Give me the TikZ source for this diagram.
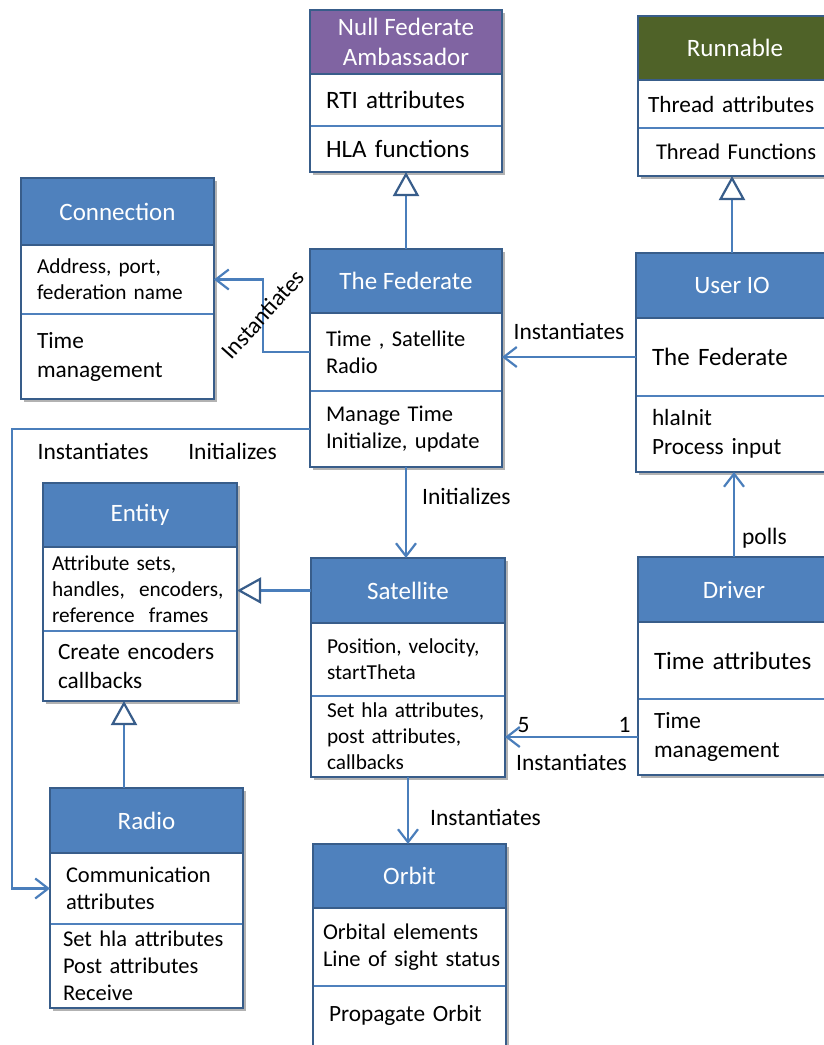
\documentclass[tikz,border=0pt]{standalone}
\usepackage{fontspec}
\setmainfont{Carlito}
\usetikzlibrary{arrows.meta,shadows}
\definecolor{umlblue}{HTML}{4F81BD}
\definecolor{umlborder}{HTML}{385D8A}
\definecolor{umlpurple}{HTML}{8064A2}
\definecolor{umlolive}{HTML}{4F6228}
\definecolor{linkblue}{HTML}{4A7EBB}
\newcommand{\hdfont}{\fontsize{25}{30}\selectfont}
\newcommand{\bodyXL}{\fontsize{25}{30}\selectfont}
\newcommand{\bodyL}{\fontsize{23.3}{29}\selectfont}
\newcommand{\bodyM}{\fontsize{22.5}{27}\selectfont}
\newcommand{\bodyS}{\fontsize{21.3}{26}\selectfont}
\newcommand{\lblfont}{\fontsize{23.5}{28}\selectfont}
\tikzset{
  boxshadow/.style={drop shadow={shadow xshift=3pt, shadow yshift=-3pt, fill=black, opacity=.3}},
  classhead/.style={draw=umlborder, line width=2pt, fill=umlblue, text=white, anchor=north west,
    outer sep=0pt, inner sep=0pt, align=center, font=\hdfont, boxshadow},
  classpart/.style={draw=umlblue, line width=1.5pt, fill=white, anchor=north west, outer sep=0pt,
    inner xsep=16pt, inner ysep=0pt, align=left, font=\bodyM, boxshadow},
  classframe/.style={draw=umlborder, line width=2.5pt},
  gen/.style={draw=linkblue, line width=2.2pt, -{Triangle[open, length=24pt, width=26pt, color=umlborder]}},
  assoc/.style={draw=linkblue, line width=2.2pt, -{Straight Barb[length=13pt, width=20pt]}},
  lbl/.style={font=\lblfont, text=black, inner sep=3pt}
}
\begin{document}
\begin{tikzpicture}[x=1pt,y=-1pt]
\useasboundingbox (0,0) rectangle (824,1045);
\fill[white] (0,0) rectangle (824,1045);
\clip (0,0) rectangle (824,1045);

\node[classhead, fill=umlpurple, minimum width=192pt, minimum height=64pt] (nullhead) at (310,10) {Null Federate\\Ambassador};
\node[classpart, font=\bodyXL, text width=160pt, minimum height=52pt] (nullp1) at (nullhead.south west) {RTI attributes};
\node[classpart, font=\bodyXL, text width=160pt, minimum height=46pt] (nullp2) at (nullp1.south west) {HLA functions};
\draw[classframe] (nullhead.north west) rectangle (nullp2.south east) (nullhead.south west) -- (nullhead.south east);

\node[classhead, fill=umlolive, minimum width=194pt, minimum height=64pt] (runhead) at (638,16) {Runnable};
\node[classpart, font=\bodyL, inner xsep=10pt, text width=174pt, minimum height=48pt] (runp1) at (runhead.south west) {Thread attributes};
\node[classpart, font=\bodyM, inner xsep=18pt, text width=158pt, minimum height=48pt] (runp2) at (runp1.south west) {\mbox{Thread Functions}};
\draw[classframe] (runhead.north west) rectangle (runp2.south east) (runhead.south west) -- (runhead.south east);

\node[classhead, minimum width=193pt, minimum height=67pt] (connhead) at (21,178) {Connection};
\node[classpart, font=\bodyS, text width=161pt, minimum height=69pt] (connp1) at (connhead.south west) {Address, port,\\federation name};
\node[classpart, font=\bodyL, text width=161pt, minimum height=85pt] (connp2) at (connp1.south west) {Time\\management};
\draw[classframe] (connhead.north west) rectangle (connp2.south east) (connhead.south west) -- (connhead.south east);

\node[classhead, minimum width=192pt, minimum height=64pt] (fedhead) at (310,249) {The Federate};
\node[classpart, text width=160pt, minimum height=78pt] (fedp1) at (fedhead.south west) {Time , Satellite\\Radio};
\node[classpart, text width=160pt, minimum height=76pt] (fedp2) at (fedp1.south west) {Manage Time\\Initialize, update};
\draw[classframe] (fedhead.north west) rectangle (fedp2.south east) (fedhead.south west) -- (fedhead.south east);

\node[classhead, minimum width=192pt, minimum height=65pt] (iohead) at (636,253) {User IO};
\node[classpart, font=\bodyXL, text width=160pt, minimum height=78pt] (iop1) at (iohead.south west) {The Federate};
\node[classpart, font=\bodyL, text width=160pt, minimum height=76pt] (iop2) at (iop1.south west) {hlaInit\\Process input};
\draw[classframe] (iohead.north west) rectangle (iop2.south east) (iohead.south west) -- (iohead.south east);

\node[classhead, minimum width=194pt, minimum height=64pt] (enthead) at (43,483) {Entity};
\node[classpart, font=\bodyS, inner xsep=9pt, text width=176pt, minimum height=84pt] (entp1) at (enthead.south west) {Attribute sets,\\handles,\ \ encoders,\\reference\ \ frames};
\node[classpart, font=\bodyL, inner xsep=15pt, text width=164pt, minimum height=70pt] (entp2) at (entp1.south west) {Create encoders\\callbacks};
\draw[classframe] (enthead.north west) rectangle (entp2.south east) (enthead.south west) -- (enthead.south east);

\node[classhead, minimum width=194pt, minimum height=65pt] (sathead) at (311,558) {Satellite};
\node[classpart, font=\bodyS, text width=162pt, minimum height=73pt] (satp1) at (sathead.south west) {Position, velocity,\\startTheta};
\node[classpart, font=\bodyS, text width=162pt, minimum height=81pt] (satp2) at (satp1.south west) {Set hla attributes,\\post attributes,\\callbacks};
\draw[classframe] (sathead.north west) rectangle (satp2.south east) (sathead.south west) -- (sathead.south east);

\node[classhead, minimum width=192pt, minimum height=65pt] (drvhead) at (638,557) {Driver};
\node[classpart, font=\bodyXL, text width=160pt, minimum height=77pt] (drvp1) at (drvhead.south west) {\mbox{Time attributes}};
\node[classpart, font=\bodyL, text width=160pt, minimum height=76pt] (drvp2) at (drvp1.south west) {Time\\management};
\draw[classframe] (drvhead.north west) rectangle (drvp2.south east) (drvhead.south west) -- (drvhead.south east);

\node[classhead, minimum width=193pt, minimum height=65pt] (radiohead) at (50,788) {Radio};
\node[classpart, text width=161pt, minimum height=71pt] (radiop1) at (radiohead.south west) {Communication\\attributes};
\node[classpart, inner xsep=13pt, text width=167pt, minimum height=84pt] (radiop2) at (radiop1.south west) {Set hla attributes\\Post attributes\\Receive};
\draw[classframe] (radiohead.north west) rectangle (radiop2.south east) (radiohead.south west) -- (radiohead.south east);

\node[classhead, minimum width=193pt, minimum height=64pt] (orbhead) at (313,844) {Orbit};
\node[classpart, inner xsep=10pt, text width=173pt, minimum height=78pt] (orbp1) at (orbhead.south west) {Orbital elements\\\mbox{Line of sight status}};
\node[classpart, font=\bodyL, text width=161pt, minimum height=78pt] (orbp2) at (orbp1.south west) {Propagate Orbit\\[-6pt]\mbox{}};
\draw[classframe] (orbhead.north west) rectangle (orbp2.south east) (orbhead.south west) -- (orbhead.south east);

\draw[gen] (fedhead.north) -- (nullp2.south);
\draw[gen] (iohead.north) -- (iohead.north |- runp2.south);
\draw[gen] (sathead.west) -- (sathead.west -| entp1.east);
\draw[gen] ([xshift=74pt]radiohead.north west) coordinate (radioup) -- (radioup |- entp2.south);

\draw[assoc] (fedp1.west) -| ([xshift=49pt]connp1.east) node[lbl, pos=.76, rotate=48] {Instantiates} -- (connp1.east);
\draw[assoc] (iop1.west) -- (iop1.west -| fedp1.east) node[lbl, midway, above=13pt] {Instantiates};
\draw[assoc] (fedp2.west) -| ([xshift=-38pt]radiop1.west) node[lbl, below=10pt, pos=.13] {Initializes} node[lbl, below=10pt, pos=.364] {Instantiates} -- (radiop1.west);
\draw[assoc] (fedp2.south) -- (fedp2.south |- sathead.north) node[lbl, right=12pt, pos=.32] {Initializes};
\draw[assoc] (drvhead.north) -- (drvhead.north |- iop2.south) node[lbl, right=4pt, pos=.22] {polls};
\draw[assoc] (drvp2.west) -- (drvp2.west -| satp2.east) node[lbl, above, pos=.1] {1} node[lbl, above, pos=.86] {5} node[lbl, below=13pt, midway] {Instantiates};
\draw[assoc] (satp2.south) -- (satp2.south |- orbhead.north) node[lbl, right=18pt, pos=.6] {Instantiates};
\end{tikzpicture}
\end{document}
